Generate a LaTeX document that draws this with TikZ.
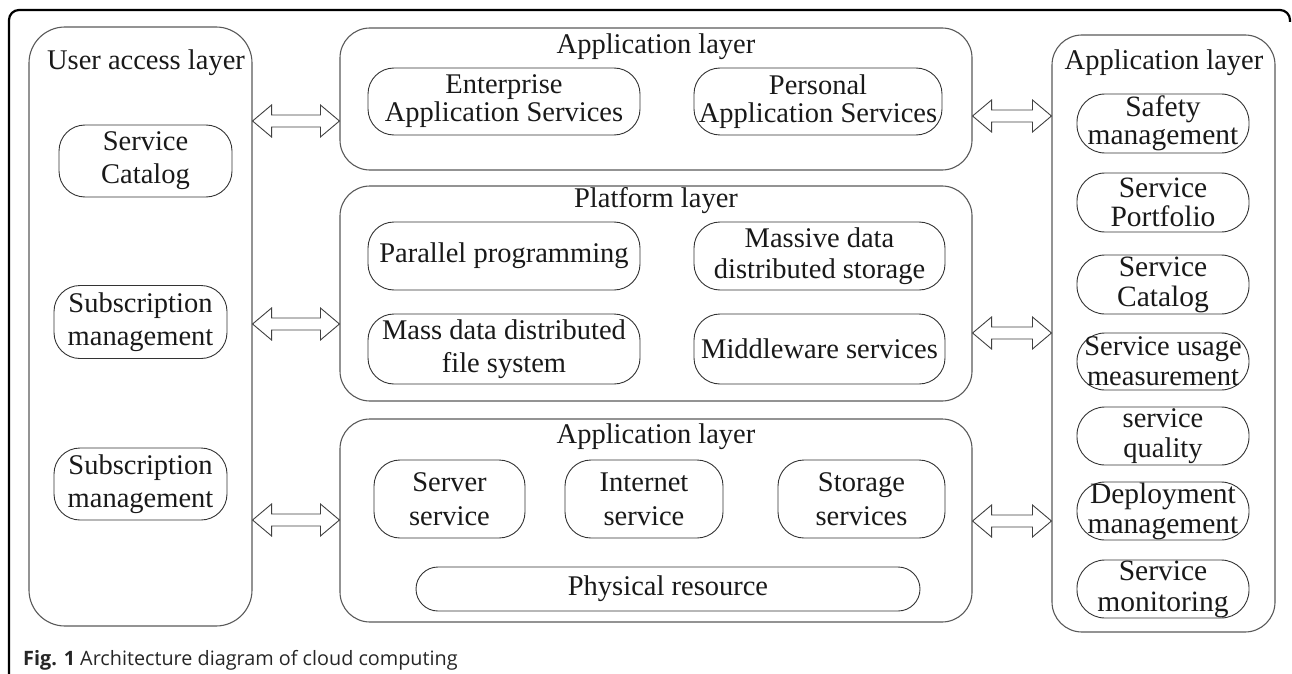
\documentclass[tikz,border=0pt]{standalone}
\usepackage{fontspec}
\setmainfont{Liberation Serif}
\newfontfamily\capfont{Open Sans}
\usetikzlibrary{calc}
\newcommand{\fs}[1]{\fontsize{28.5}{#1}\selectfont}
\newcommand{\fr}[1]{\fontsize{29.5}{#1}\selectfont}
\begin{document}
\begin{tikzpicture}[x=1pt,y=-1pt,
  txt/.style={font=\fs{30}, align=center, text=black!90},
  layer/.style={draw=black!65, line width=1.1pt, rounded corners=30pt, inner sep=0pt},
  item/.style={draw=black!80, line width=0.9pt, rounded corners=26pt, inner sep=0pt, txt},
  pill/.style={item, rounded corners=28pt},
  title/.style={txt, inner sep=0pt},
  hollow/.style={draw=black!75, line width=0.9pt, fill=white,
    to path={let \p1=(\tikztostart), \p2=(\tikztotarget) in
      (\x1,\y1) -- (\x1+19pt,\y1+16pt) -- (\x1+19pt,\y1+6pt) -- (\x2-19pt,\y1+6pt)
      -- (\x2-19pt,\y1+16pt) -- (\x2,\y1) -- (\x2-19pt,\y1-16pt) -- (\x2-19pt,\y1-6pt)
      -- (\x1+19pt,\y1-6pt) -- (\x1+19pt,\y1-16pt) -- cycle}},
  frame/.style={draw=black, line width=2.2pt, rounded corners=10pt}
]
\useasboundingbox (0,0) rectangle (1292,674);

% outer frame
\draw[frame] (9,674) -- (9,10) -- (1290,10) -- (1290,22);

% left column
\node[layer, rounded corners=36pt, minimum width=223pt, minimum height=599pt] (ua) at (140.5,326.5) {};
\node[title] (uat) at (146,63) {User access layer};
\node[item, font=\fs{33}, minimum width=173pt, minimum height=72pt] (uasc) at (145.5,161) {Service\\Catalog};
\node[item, font=\fs{33}, minimum width=173pt, minimum height=73pt] (sub1) at (140.5,322) {Subscription\\management};
\node[item, font=\fs{33}, minimum width=173pt, minimum height=72pt] (sub2) at (140.5,484) {Subscription\\management};

% center column: application layer
\node[layer, minimum width=632pt, minimum height=142pt] (app1) at (656,99) {};
\node[title] (app1t) at (656,47) {Application layer};
\node[item, font=\fs{28}, minimum width=272pt, minimum height=67pt] (eas) at (504,101.5) {Enterprise\\Application Services};
\node[item, font=\fs{28}, minimum width=248pt, minimum height=67pt] (pas) at (818,101.5) {Personal\\Application Services};

% platform layer
\node[layer, minimum width=632pt, minimum height=215pt] (plat) at (656,293.5) {};
\node[title] (platt) at (656,201) {Platform layer};
\node[item, minimum width=272pt, minimum height=68pt] (par) at (504,256) {Parallel programming};
\node[item, font=\fs{31}, minimum width=251pt, minimum height=68pt] (mds) at (819.5,256) {Massive data\\distributed storage};
\node[item, font=\fs{33}, minimum width=272pt, minimum height=70pt] (mdf) at (504,349) {Mass data distributed\\file system};
\node[item, minimum width=251pt, minimum height=70pt] (mid) at (819.5,349) {Middleware services};

% lower application layer
\node[layer, minimum width=632pt, minimum height=203pt] (app2) at (656,520.5) {};
\node[title] (app2t) at (656,437) {Application layer};
\node[item, font=\fs{34}, minimum width=151pt, minimum height=78pt] (srv) at (449.5,499) {Server\\service};
\node[item, font=\fs{34}, minimum width=158pt, minimum height=78pt] (inet) at (644,499) {Internet\\service};
\node[item, font=\fs{34}, minimum width=167pt, minimum height=78pt] (sto) at (861.5,499) {Storage\\services};
\node[item, rounded corners=22pt, minimum width=504pt, minimum height=44pt] (phys) at (668,589) {Physical resource};

% right column
\node[layer, minimum width=223pt, minimum height=597pt] (rc) at (1163.5,333.5) {};
\node[title] (rct) at (1164,63) {Application layer};
\node[pill, font=\fr{28}, minimum width=172pt, minimum height=59pt] (safe) at (1163,123.5) {Safety\\management};
\node[pill, font=\fr{29}, minimum width=172pt, minimum height=59pt] (port) at (1163,202.5) {Service\\Portfolio};
\node[pill, font=\fr{30}, minimum width=172pt, minimum height=59pt] (cat) at (1163,284.5) {Service\\Catalog};
\node[pill, font=\fontsize{28.5}{30}\selectfont, minimum width=172pt, minimum height=57pt] (use) at (1163,361.5) {Service usage\\measurement};
\node[pill, font=\fontsize{28.5}{30}\selectfont, minimum width=172pt, minimum height=58pt] (qual) at (1163,436) {service\\quality};
\node[pill, font=\fr{30}, minimum width=172pt, minimum height=58pt] (dep) at (1163,511) {Deployment\\management};
\node[pill, font=\fr{31}, minimum width=172pt, minimum height=58pt] (mon) at (1163,589) {Service\\monitoring};

% arrow levels
\coordinate (ya1) at (0,121);
\coordinate (ya2) at (0,324);
\coordinate (ya3) at (0,520);
\coordinate (yb1) at (0,116);
\coordinate (yb2) at (0,333);
\coordinate (yb3) at (0,521);

\draw[hollow] (ua.east |- ya1) to (app1.west |- ya1);
\draw[hollow] (ua.east |- ya2) to (plat.west |- ya2);
\draw[hollow] (ua.east |- ya3) to (app2.west |- ya3);
\draw[hollow] (app1.east |- yb1) to (rc.west |- yb1);
\draw[hollow] (plat.east |- yb2) to (rc.west |- yb2);
\draw[hollow] (app2.east |- yb3) to (rc.west |- yb3);

% caption
\node[anchor=base west, inner sep=0pt, font=\capfont\fontsize{19.8}{23}\selectfont, text=black!85] (cap) at (23,665)
  {\textbf{Fig. 1} Architecture diagram of cloud computing};
\end{tikzpicture}
\end{document}
